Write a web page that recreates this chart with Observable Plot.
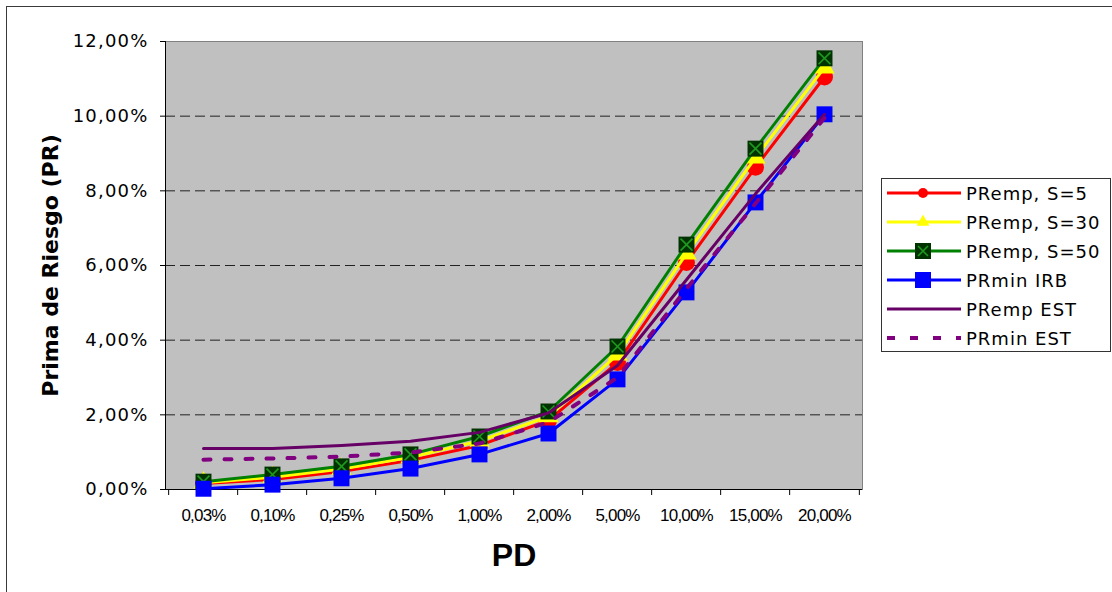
<!DOCTYPE html>
<html><head><meta charset="utf-8">
<script src="https://cdn.jsdelivr.net/npm/d3@7"></script>
<script src="https://cdn.jsdelivr.net/npm/@observablehq/plot@0.6"></script>
<style>
html,body{margin:0;padding:0;background:#fff;}
#wrap{position:relative;width:1112px;height:592px;overflow:hidden;}
#border{position:absolute;left:6px;top:6px;width:1300px;height:800px;border-left:1.5px solid #3a3a3a;border-top:1.5px solid #3a3a3a;}
#chart{position:absolute;left:0;top:0;}
#legend{position:absolute;left:881px;top:178px;}
g[aria-label="y-axis tick label"] text{letter-spacing:1.2px;}
g[aria-label="x-axis tick label"] text{letter-spacing:-0.8px;}
#legend text{letter-spacing:1px;}
</style></head><body>
<div id="wrap"><div id="border"></div><div id="chart"></div><div id="legend"></div></div>
<script>
// ---- data ----
const categories = ["0,03%","0,10%","0,25%","0,50%","1,00%","2,00%","5,00%","10,00%","15,00%","20,00%"];
const premp5   = [0.16,0.27,0.48,0.78,1.18,1.85,3.40,6.08,8.63,11.05];
const premp30  = [0.18,0.33,0.55,0.86,1.30,1.96,3.61,6.32,8.89,11.30];
const premp50  = [0.21,0.40,0.62,0.94,1.42,2.09,3.83,6.56,9.13,11.55];
const prminIRB = [0.02,0.13,0.30,0.56,0.94,1.50,2.95,5.28,7.69,10.05];
const prempEST = [1.10,1.10,1.18,1.29,1.53,2.05,3.32,5.62,7.92,10.05];
const prminEST = [0.80,0.83,0.88,0.99,1.23,1.80,3.00,5.38,7.66,9.95];
const yTicks = [0,2,4,6,8,10,12];
const seriesNames = ["PRemp, S=5","PRemp, S=30","PRemp, S=50","PRmin IRB","PRemp EST","PRmin EST"];
const seriesValues = [premp5,premp30,premp50,prminIRB,prempEST,prminEST];

// ---- styles ----
const styles = [
  {color:"#FF0000", marker:"circle", r:8.5, lr:5},
  {color:"#FFFF00", marker:"triangle", r:7.5, lr:5.2},
  {color:"#008000", marker:"squareX", r:9, lr:9.4},
  {color:"#0000FF", marker:"square", r:9, lr:9.4},
  {color:"#660066", marker:null},
  {color:"#800080", marker:null, dash:"7,14", w:4}
];

const W=1112, H=592, mL=165, mR=250, mT=41, mB=103;
const step = (W-mL-mR)/categories.length;
const fmt = d => d.toFixed(2).replace(".", ",") + "%";

const rows = seriesNames.map((name,k)=>seriesValues[k].map((v,i)=>({series:name, pd:categories[i], pr:v})));

const seriesMarks = [];
rows.forEach((data,k)=>{
  const st = styles[k];
  seriesMarks.push(Plot.line(data, {x:"pd", y:"pr", stroke:st.color, strokeWidth:st.w||3, strokeDasharray:st.dash, strokeLinejoin:"round"}));
  if (st.marker==="circle" || st.marker==="triangle" || st.marker==="square")
    seriesMarks.push(Plot.dot(data, {x:"pd", y:"pr", symbol:st.marker, r:st.r, fill:st.color, stroke:"none"}));
  if (st.marker==="squareX") {
    seriesMarks.push(Plot.dot(data, {x:"pd", y:"pr", symbol:"square", r:st.r, fill:"#003300", stroke:"none"}));
    seriesMarks.push(Plot.dot(data, {x:"pd", y:"pr", symbol:"times", r:5.5, stroke:"#1f9a1f", strokeWidth:1.6}));
  }
});

const chart = Plot.plot({
  width:W, height:H, marginLeft:mL, marginRight:mR, marginTop:mT, marginBottom:mB,
  style:{background:"transparent", overflow:"visible"},
  x:{type:"point", domain:categories, padding:0.5, label:null},
  y:{domain:[0,12], label:null},
  marks:[
    Plot.frame({fill:"#C0C0C0", stroke:"#808080"}),
    Plot.ruleY(yTicks.filter(t=>t>0 && t<12), {stroke:"#222", strokeDasharray:"10,5", strokeWidth:1}),
    Plot.frame({anchor:"left", stroke:"#000"}),
    Plot.ruleY([0], {stroke:"#000"}),
    Plot.ruleX(categories, {x:d=>d, y1:0, y2:0, insetBottom:-6, dx:-step/2, stroke:"#000"}),
    Plot.ruleX([categories[categories.length-1]], {x:d=>d, y1:0, y2:0, insetBottom:-6, dx:step/2, stroke:"#000"}),
    Plot.axisY({ticks:yTicks, tickFormat:fmt, tickSize:5, tickPadding:12, fontSize:18, fontFamily:"DejaVu Sans", label:null}),
    Plot.axisX({tickSize:0, tickPadding:19, fontSize:17, fontFamily:"Liberation Sans", label:null}),
    Plot.text(["Prima de Riesgo (PR)"], {text:d=>d, frameAnchor:"left", textAnchor:"middle", dx:-115, rotate:-90, fontSize:22, fontWeight:"bold", fontFamily:"DejaVu Sans"}),
    Plot.text(["PD"], {text:d=>d, frameAnchor:"bottom", dy:76, fontSize:32, fontWeight:"bold", fontFamily:"Liberation Sans"}),
    ...seriesMarks
  ]
});
document.getElementById("chart").appendChild(chart);

// ---- legend ----
const LW=230, LH=174;
const lsvg = d3.select("#legend").append("svg").attr("width",LW).attr("height",LH);
lsvg.append("rect").attr("x",0.5).attr("y",0.5).attr("width",LW-1).attr("height",LH-1).attr("fill","#fff").attr("stroke","#333");
seriesNames.forEach((name,k)=>{
  const st = styles[k];
  const y = 15 + k*29;
  const g = lsvg.append("g");
  g.append("line").attr("x1",6).attr("x2",80).attr("y1",y).attr("y2",y)
    .attr("stroke",st.color).attr("stroke-width",st.w||3).attr("stroke-dasharray", st.dash ? "8,15" : null);
  const cx = 42;
  if (st.marker==="circle") g.append("circle").attr("cx",cx).attr("cy",y).attr("r",st.lr).attr("fill",st.color);
  if (st.marker==="triangle") g.append("path").attr("d", d3.symbol(d3.symbolTriangle, 70)()).attr("transform",`translate(${cx},${y})`).attr("fill",st.color);
  if (st.marker==="square" || st.marker==="squareX") {
    g.append("rect").attr("x",cx-8).attr("y",y-8).attr("width",16).attr("height",16).attr("fill", st.marker==="square"?st.color:"#003300");
  }
  if (st.marker==="squareX") {
    g.append("path").attr("d",`M${cx-5},${y-5}L${cx+5},${y+5}M${cx-5},${y+5}L${cx+5},${y-5}`).attr("stroke","#1f9a1f").attr("stroke-width",1.6);
  }
  g.append("text").attr("x",85).attr("y",y+7).attr("font-family","DejaVu Sans").attr("font-size",18).attr("fill","#000").text(name);
});
</script>
</body></html>
